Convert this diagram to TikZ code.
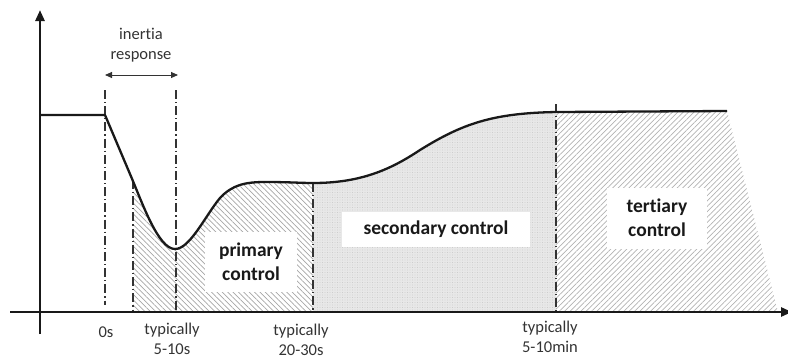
\documentclass[tikz,border=0pt]{standalone}
\usepackage{fontspec}
\setmainfont{Carlito}[Ligatures=NoCommon]
\usetikzlibrary{patterns.meta,arrows.meta}
\tikzset{
  axisline/.style={line width=2.6pt, draw=black!90},
  curveline/.style={line width=2.3pt, draw=black!90, line join=round},
  marker/.style={line width=1.1pt, draw=black!80, dash pattern=on 9pt off 3pt on 1.2pt off 3pt},
  ticklabel/.style={font=\fontsize{16.5}{20}\selectfont, text=black!80, align=center, inner sep=0pt},
  ctrlbox/.style={fill=white, font=\bfseries\fontsize{19.5}{24}\selectfont, text=black!90, align=center, inner sep=5pt},
  hatchL/.style={pattern={Lines[angle=-45,distance=3.8pt,line width=0.7pt]}, pattern color=black!35},
  hatchR/.style={pattern={Lines[angle=45,distance=3.8pt,line width=0.7pt]}, pattern color=black!30},
  dotted fill/.style={fill=black!9},
}
\newcommand{\freqcurve}{(105,115) -- (130,174)
  .. controls (142,202) and (158,249) .. (175,249)
  .. controls (190,249) and (205,216) .. (220,198)
  .. controls (232,185) and (245,182) .. (265,182)
  .. controls (290,182) and (300,183) .. (313,183)
  .. controls (360,183) and (390,170) .. (420,150)
  .. controls (462,124) and (492,113) .. (557,112)
  -- (727,111)}
\begin{document}
\begin{tikzpicture}[x=1pt,y=-1pt]
\useasboundingbox (0,0) rectangle (788,360);

% shaded areas under the frequency curve
\begin{scope}
  \clip (133,0) rectangle (313,312);
  \fill[hatchL] \freqcurve -- (778,312) -- (105,312) -- cycle;
\end{scope}
\begin{scope}
  \clip (313,0) rectangle (556,312);
  \fill[dotted fill] \freqcurve -- (778,312) -- (105,312) -- cycle;
  \fill[pattern={Dots[distance=2.5pt,radius=0.45pt]}, pattern color=black!25] \freqcurve -- (778,312) -- (105,312) -- cycle;
\end{scope}
\begin{scope}
  \clip (556,0) rectangle (800,312);
  \fill[hatchR] \freqcurve -- (778,312) -- (105,312) -- cycle;
\end{scope}

% time markers
\coordinate (t0top) at (105,90);   \coordinate (t0bot) at (105,305);
\coordinate (t1top) at (176,90);   \coordinate (t1bot) at (176,312);
\coordinate (tatop) at (133,180);  \coordinate (tabot) at (133,312);
\coordinate (t2top) at (313,183);  \coordinate (t2bot) at (313,312);
\coordinate (t3top) at (556,104);  \coordinate (t3bot) at (556,312);
\draw[marker] (t0top) -- (t0bot);
\draw[marker] (t1top) -- (t1bot);
\draw[marker] (tatop) -- (tabot);
\draw[marker] (t2top) -- (t2bot);
\draw[marker] (t3top) -- (t3bot);

% axes
\coordinate (yb) at (40,334);
\coordinate (yt) at (40,10);
\coordinate (xl) at (10,312);
\coordinate (xr) at (792,312);
\draw[axisline, -{Triangle[length=11pt,width=9pt]}] (yb) -- (yt);
\draw[axisline, -{Triangle[length=11pt,width=9pt]}] (xl) -- (xr);

% frequency curve
\draw[curveline] (40,115) -- \freqcurve;

% inertia response span
\coordinate (ia) at (105,75);
\coordinate (ib) at (178,75);
\draw[line width=0.9pt, black!80, {Triangle[length=7pt,width=6pt]}-{Triangle[length=7pt,width=6pt]}] (ia) -- (ib);
\node[ticklabel] (inertia) at (141,45) {inertia\\response};

% control labels
\node[ctrlbox, minimum width=92pt, minimum height=60pt] (prim) at (251,262) {primary\\control};
\node[ctrlbox, minimum width=188pt, minimum height=35pt] (sec) at (436,229) {secondary control};
\node[ctrlbox, minimum width=100pt, minimum height=61pt] (tert) at (657,218) {tertiary\\control};

% time labels
\node[ticklabel] (l0) at (106,332) {0s};
\node[ticklabel] (l1) at (172,339) {typically\\5-10s};
\node[ticklabel] (l2) at (301,340) {typically\\20-30s};
\node[ticklabel] (l3) at (550,337) {typically\\5-10min};
\end{tikzpicture}
\end{document}
